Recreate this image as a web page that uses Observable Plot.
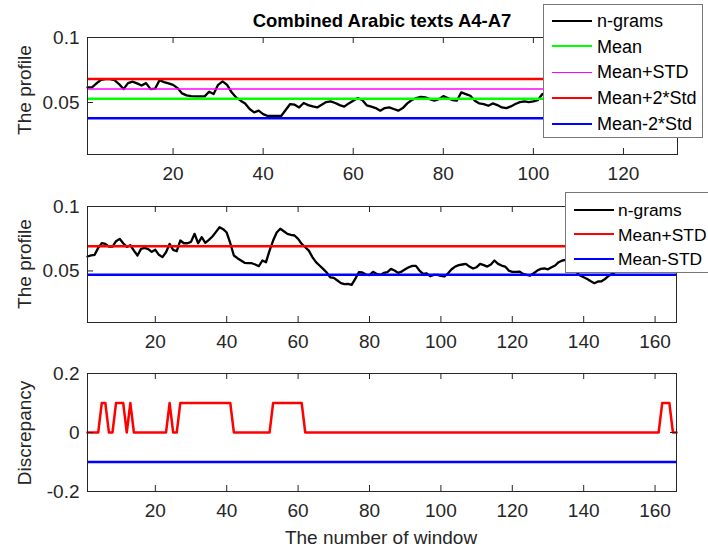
<!DOCTYPE html>
<html><head><meta charset="utf-8">
<script src="https://cdn.jsdelivr.net/npm/d3@7"></script>
<script src="https://cdn.jsdelivr.net/npm/@observablehq/plot@0.6"></script>
<style>
body{margin:0;background:#fff;}
#fig{position:relative;width:708px;height:550px;overflow:hidden;background:#fff;font-family:"Liberation Sans",Arial,Helvetica,sans-serif;color:#262626;}
#fig svg{position:absolute;left:0;}
.lab{position:absolute;white-space:nowrap;font-size:19px;transform:translate(-50%,-50%);line-height:22px;}
.ylab{transform:translate(-50%,-50%) rotate(-90deg);}
.title{font-weight:bold;font-size:18.5px;color:#000;}
.legend{position:absolute;background:#fff;border:1px solid #777;box-sizing:border-box;font-size:18px;color:#000;}
.legend .row{position:absolute;left:0;width:400px;height:24px;line-height:24px;white-space:nowrap;}
.legend .sw{position:absolute;left:8px;width:40px;height:0;}
.legend .tx{position:absolute;left:53px;top:0;}
</style></head>
<body><div id="fig"></div>
<script>
// ---------- data ----------
const title = "Combined Arabic texts A4-A7";
const yLabel1 = "The profile", yLabel2 = "The profile", yLabel3 = "Discrepancy";
const xLabel = "The number of window";

// Panel 1: n-grams profile (windows 1..132)
const profile1 = [
  0.0616,0.0616,0.0647,0.0675,0.0680,0.0680,0.0672,0.0642,0.0603,0.0649,
  0.0660,0.0647,0.0631,0.0649,0.0603,0.0606,0.0672,0.0657,0.0647,0.0636,
  0.0611,0.0570,0.0555,0.0549,0.0547,0.0547,0.0547,0.0583,0.0565,0.0636,
  0.0662,0.0636,0.0578,0.0539,0.0514,0.0493,0.0450,0.0424,0.0437,0.0411,
  0.0396,0.0396,0.0396,0.0396,0.0442,0.0488,0.0483,0.0462,0.0496,0.0480,
  0.0470,0.0462,0.0483,0.0503,0.0508,0.0496,0.0480,0.0468,0.0493,0.0514,
  0.0534,0.0519,0.0478,0.0468,0.0457,0.0437,0.0457,0.0462,0.0450,0.0437,
  0.0457,0.0493,0.0519,0.0534,0.0544,0.0539,0.0526,0.0514,0.0526,0.0549,
  0.0534,0.0519,0.0514,0.0578,0.0565,0.0552,0.0514,0.0493,0.0488,0.0475,
  0.0493,0.0480,0.0462,0.0457,0.0470,0.0488,0.0503,0.0508,0.0503,0.0508,
  0.0519,0.0565,0.0575,0.0580,0.0570,0.0560,0.0555,0.0550,0.0545,0.0550,
  0.0560,0.0570,0.0580,0.0585,0.0580,0.0570,0.0560,0.0550,0.0540,0.0535,
  0.0540,0.0550,0.0560,0.0565,0.0570,0.0560,0.0550,0.0540,0.0535,0.0530,
  0.0535,0.0540
];
const p1Mean = 0.0528, p1MeanPlusStd = 0.0604, p1MeanPlus2Std = 0.0680, p1MeanMinus2Std = 0.0378;

// Panel 2: n-grams profile (windows 1..166)
const profile2 = [
  0.0612,0.0620,0.0625,0.0679,0.0715,0.0710,0.0689,0.0689,0.0731,0.0749,
  0.0715,0.0687,0.0700,0.0658,0.0620,0.0671,0.0679,0.0669,0.0648,0.0664,
  0.0625,0.0607,0.0645,0.0710,0.0664,0.0653,0.0736,0.0715,0.0715,0.0726,
  0.0788,0.0715,0.0762,0.0718,0.0741,0.0767,0.0803,0.0839,0.0824,0.0798,
  0.0715,0.0620,0.0599,0.0581,0.0563,0.0560,0.0560,0.0550,0.0537,0.0581,
  0.0568,0.0658,0.0736,0.0798,0.0827,0.0808,0.0788,0.0780,0.0775,0.0749,
  0.0710,0.0684,0.0658,0.0607,0.0568,0.0542,0.0516,0.0488,0.0451,0.0446,
  0.0426,0.0405,0.0397,0.0400,0.0392,0.0438,0.0490,0.0488,0.0472,0.0467,
  0.0493,0.0477,0.0469,0.0485,0.0490,0.0516,0.0503,0.0485,0.0495,0.0513,
  0.0529,0.0539,0.0539,0.0503,0.0477,0.0482,0.0459,0.0469,0.0469,0.0462,
  0.0457,0.0482,0.0513,0.0534,0.0545,0.0550,0.0555,0.0534,0.0519,0.0529,
  0.0555,0.0545,0.0534,0.0550,0.0581,0.0555,0.0542,0.0534,0.0503,0.0493,
  0.0493,0.0495,0.0477,0.0469,0.0464,0.0482,0.0503,0.0516,0.0519,0.0513,
  0.0529,0.0542,0.0568,0.0581,0.0586,0.0568,0.0529,0.0490,0.0464,0.0451,
  0.0438,0.0420,0.0405,0.0418,0.0420,0.0438,0.0462,0.0477,0.0495,0.0516,
  0.0534,0.0555,0.0568,0.0581,0.0586,0.0607,0.0620,0.0633,0.0645,0.0664,
  0.0684,0.0710,0.0723,0.0705,0.0679,0.0664
];
const p2MeanPlusStd = 0.0692, p2MeanMinusStd = 0.0470;

// Panel 3: discrepancy (windows 1..166)
const discrepancy = [
  0,0,0,0,0.1,0.1,0,0,0.1,0.1,
  0.1,0,0.1,0,0,0,0,0,0,0,
  0,0,0,0.1,0,0,0.1,0.1,0.1,0.1,
  0.1,0.1,0.1,0.1,0.1,0.1,0.1,0.1,0.1,0.1,
  0.1,0,0,0,0,0,0,0,0,0,
  0,0,0.1,0.1,0.1,0.1,0.1,0.1,0.1,0.1,
  0.1,0,0,0,0,0,0,0,0,0,
  0,0,0,0,0,0,0,0,0,0,
  0,0,0,0,0,0,0,0,0,0,
  0,0,0,0,0,0,0,0,0,0,
  0,0,0,0,0,0,0,0,0,0,
  0,0,0,0,0,0,0,0,0,0,
  0,0,0,0,0,0,0,0,0,0,
  0,0,0,0,0,0,0,0,0,0,
  0,0,0,0,0,0,0,0,0,0,
  0,0,0,0,0,0,0,0,0,0,
  0,0.1,0.1,0.1,0,0
];
const discLower = -0.1;

const xTicks1 = [20,40,60,80,100,120];
const xTicks2 = [20,40,60,80,100,120,140,160];
const yTicksProfile = [0.05,0.1];
const yTicksDisc = [-0.2,0,0.2];

const legend1 = [
  {label:"n-grams", color:"#000000", w:2.5},
  {label:"Mean", color:"#00ff00", w:2.5},
  {label:"Mean+STD", color:"#ff00ff", w:1.5},
  {label:"Mean+2*Std", color:"#ff0000", w:2.5},
  {label:"Mean-2*Std", color:"#0000ff", w:2.5}
];
const legend2 = [
  {label:"n-grams", color:"#000000", w:2.5},
  {label:"Mean+STD", color:"#ff0000", w:2.5},
  {label:"Mean-STD", color:"#0000ff", w:2.5}
];

// ---------- drawing ----------
const AX = "#262626";
const FONT = '"Liberation Sans", Arial, Helvetica, sans-serif';
const fig = document.getElementById("fig");

function table(values){ return values.map((v,i)=>({w:i+1, v})); }

function panel(o){
  const mr = o.mr, fw = 708 - 87 - mr, fh = o.height - o.mt - o.mb;
  const svg = Plot.plot({
    width: 708, height: o.height,
    marginLeft: 87, marginRight: mr, marginTop: o.mt, marginBottom: o.mb,
    x: {domain: o.xDomain},
    y: {domain: o.yDomain},
    style: {fontFamily: FONT, fontSize: "19px", color: AX, background: "transparent", overflow: "visible"},
    marks: [
      ...o.marks,
      Plot.frame({stroke: AX, strokeWidth: 1}),
      Plot.tickX(o.xTicks, {x: d=>d, insetTop: fh-6, stroke: AX, strokeWidth: 1}),
      Plot.tickX(o.xTicks, {x: d=>d, insetBottom: fh-6, stroke: AX, strokeWidth: 1}),
      Plot.tickY(o.yTicks, {y: d=>d, insetRight: fw-6, stroke: AX, strokeWidth: 1}),
      Plot.tickY(o.yTicks, {y: d=>d, insetLeft: fw-6, stroke: AX, strokeWidth: 1}),
      Plot.axisX(o.xTicks, {tickSize: 0, tickPadding: 12, label: null, tickFormat: d=>String(d)}),
      Plot.axisY(o.yTicks, {tickSize: 0, tickPadding: 8, label: null, tickFormat: d=>String(d)})
    ]
  });
  svg.style.top = o.top + "px";
  fig.appendChild(svg);
}

const t1 = table(profile1), t2 = table(profile2), t3 = table(discrepancy);

panel({
  top: 0, height: 185, mt: 37, mb: 31, mr: 31,
  xDomain: [1, profile1.length], yDomain: [0.01, 0.1],
  xTicks: xTicks1, yTicks: yTicksProfile,
  marks: [
    Plot.line(t1, {x:"w", y:"v", stroke:"#000", strokeWidth:2.3}),
    Plot.ruleY([p1Mean], {stroke:"#00ff00", strokeWidth:2.5}),
    Plot.ruleY([p1MeanPlusStd], {stroke:"#ff00ff", strokeWidth:1.5}),
    Plot.ruleY([p1MeanPlus2Std], {stroke:"#ff0000", strokeWidth:2.5}),
    Plot.ruleY([p1MeanMinus2Std], {stroke:"#0000ff", strokeWidth:2.5})
  ]
});

panel({
  top: 185, height: 170, mt: 21, mb: 33, mr: 32,
  xDomain: [1, profile2.length], yDomain: [0.01, 0.1],
  xTicks: xTicks2, yTicks: yTicksProfile,
  marks: [
    Plot.line(t2, {x:"w", y:"v", stroke:"#000", strokeWidth:2.3}),
    Plot.ruleY([p2MeanPlusStd], {stroke:"#ff0000", strokeWidth:2.5}),
    Plot.ruleY([p2MeanMinusStd], {stroke:"#0000ff", strokeWidth:2.5})
  ]
});

panel({
  top: 355, height: 195, mt: 18, mb: 59, mr: 32,
  xDomain: [1, discrepancy.length], yDomain: [-0.2, 0.2],
  xTicks: xTicks2, yTicks: yTicksDisc,
  marks: [
    Plot.line(t3, {x:"w", y:"v", stroke:"#ff0000", strokeWidth:2.5}),
    Plot.ruleY([discLower], {stroke:"#0000ff", strokeWidth:2.5})
  ]
});

function label(text, cx, cy, cls){
  const d = document.createElement("div");
  d.className = "lab " + (cls||"");
  d.textContent = text;
  d.style.left = cx + "px"; d.style.top = cy + "px";
  fig.appendChild(d);
}
label(title, 382, 21, "title");
label(yLabel1, 25, 90, "ylab");
label(yLabel2, 25, 264, "ylab");
label(yLabel3, 25, 433, "ylab");
label(xLabel, 381, 538, "");

function legend(items, left, top, width, height, rowTop, rowStep, textLeft, fontSize){
  const box = document.createElement("div");
  box.className = "legend";
  Object.assign(box.style, {left:left+"px", top:top+"px", width:width+"px", height:height+"px", fontSize: fontSize+"px"});
  items.forEach((it,i)=>{
    const row = document.createElement("div");
    row.className = "row";
    row.style.top = (rowTop + i*rowStep - 12) + "px";
    const sw = document.createElement("span");
    sw.className = "sw";
    sw.style.borderTop = it.w + "px solid " + it.color;
    sw.style.top = (12 - it.w/2) + "px";
    const tx = document.createElement("span");
    tx.className = "tx";
    tx.style.left = textLeft + "px";
    tx.textContent = it.label;
    row.appendChild(sw); row.appendChild(tx);
    box.appendChild(row);
  });
  fig.appendChild(box);
}
legend(legend1, 543, 4, 160, 134, 16, 25.7, 53, 18);
legend(legend2, 565, 192, 170, 81, 17, 24.5, 52, 17.4);
</script></body></html>
